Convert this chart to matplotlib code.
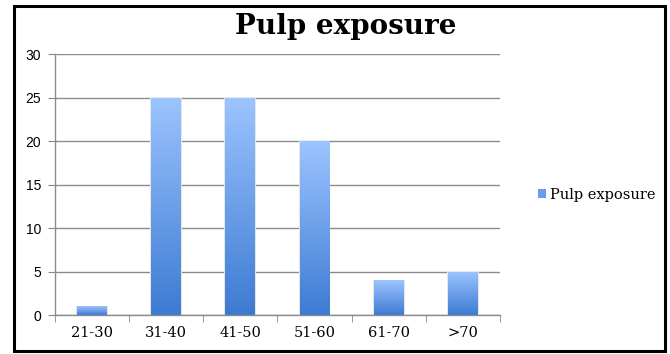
import numpy as np
import matplotlib
matplotlib.use("Agg")
import matplotlib.pyplot as plt
from matplotlib.patches import Rectangle
from matplotlib.colors import LinearSegmentedColormap

categories = ["21-30", "31-40", "41-50", "51-60", "61-70", ">70"]
values = [1, 25, 25, 20, 4, 5]
series_name = "Pulp exposure"
yticks = [0, 5, 10, 15, 20, 25, 30]

fig = plt.figure(figsize=(6.7, 3.54), dpi=100)
ax = fig.add_axes([0.082, 0.110, 0.664, 0.737])

x = np.arange(len(categories))
bars = ax.bar(x, values, width=0.4, color="none", edgecolor="none", zorder=3)

grad = LinearSegmentedColormap.from_list("blue_grad", ["#3D7BD2", "#9CC4FF"])
gimg = np.linspace(0, 1, 256).reshape(-1, 1)
for b in bars:
    x0, w, h = b.get_x(), b.get_width(), b.get_height()
    im = ax.imshow(gimg, cmap=grad, origin="lower", aspect="auto",
                   extent=[x0, x0 + w, 0, h], zorder=3, interpolation="bicubic")
    im.set_clip_path(b)
    ax.add_patch(Rectangle((x0 - 0.015, 0), w + 0.03, h, facecolor="#e6e6e6",
                           edgecolor="none", zorder=2))

ax.set_xlim(-0.5, len(categories) - 0.5)
ax.set_ylim(0, 30)
ax.set_yticks(yticks)
ax.set_yticklabels([str(v) for v in yticks], fontsize=10, family="Liberation Sans")
ax.set_xticks(x)
ax.set_xticklabels(categories, fontsize=10.5, family="DejaVu Serif")
ax.set_xticks(np.arange(-0.5, len(categories)), minor=True)
ax.tick_params(axis="x", which="major", length=0, pad=8)
ax.tick_params(axis="x", which="minor", length=5, color="#888888", direction="out")
ax.tick_params(axis="y", length=5, color="#888888", pad=5)
ax.grid(axis="y", color="#8c8c8c", linewidth=1, zorder=1)
ax.set_axisbelow(True)
for s in ["top", "right"]:
    ax.spines[s].set_visible(False)
for s in ["left", "bottom"]:
    ax.spines[s].set_color("#8c8c8c")
    ax.spines[s].set_linewidth(1)

fig.text(0.516, 0.925, "Pulp exposure", ha="center", va="center",
         fontsize=20, fontweight="bold", family="DejaVu Serif")

handle = Rectangle((0, 0), 1, 1, facecolor="#6A9EEA", edgecolor="none")
fig.legend([handle], [series_name], loc="center left",
           bbox_to_anchor=(0.783, 0.45), frameon=False,
           prop={"family": "DejaVu Serif", "size": 10.5},
           handlelength=0.6, handleheight=0.6, handletextpad=0.25)

fig.add_artist(Rectangle((13.5 / 670, 3.5 / 354), 651 / 670, 344.5 / 354,
                         transform=fig.transFigure, facecolor="none",
                         edgecolor="black", linewidth=2.2))

fig.savefig("out.png", dpi=100)
